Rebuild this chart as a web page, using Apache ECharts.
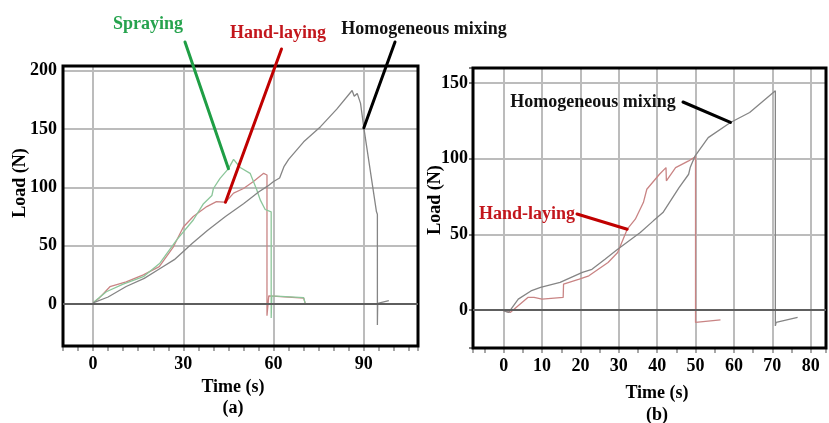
<!DOCTYPE html>
<html>
<head>
<meta charset="utf-8">
<script src="https://cdn.jsdelivr.net/npm/echarts@6/dist/echarts.min.js"></script>
<style>
  html, body { margin: 0; padding: 0; background: #fff; }
  #chart { width: 829px; height: 423px; }
</style>
</head>
<body>
<div id="chart"></div>
<script>
// Tick labels shown on each panel
const xTicksA = [0, 30, 60, 90];
const yTicksA = [0, 50, 100, 150, 200];
const xTicksB = [0, 10, 20, 30, 40, 50, 60, 70, 80];
const yTicksB = [0, 50, 100, 150];

// (a) load-time curves: [time (s), load (N)]
const mixingA = [[0,1],[5,6],[11,15],[17,22],[22,30],[27,38],[33,52],[38,63],[44,75],[50,86],[53,92],[55,96],[58,101],[60,105],[62,108],[63.5,118],[65,124],[70,139],[75.6,152],[81,167],[86.1,183],[86.8,178],[87.8,180.5],[88.9,172],[90,151],[94.2,79],[94.5,77],[94.5,-18],[94.6,0.5],[98.3,2.8]];
const handA = [[0,1],[2,5],[5.6,14.8],[11,19],[16.7,25],[22,32],[26.7,49],[30,66],[33.3,75],[37.8,83.5],[41,87.7],[44,87.2],[46.7,95],[50,99],[53.3,105],[56.7,112],[57.8,110.6],[57.8,-10],[58.4,7],[70,5],[70.5,0.5]];
const sprayA = [[0,1],[4.4,10.5],[10,17],[16.7,23.4],[22.2,35],[27.8,55],[33.3,72],[36.7,86],[39.5,93],[40,99],[42.2,107.7],[45,116],[46.7,124],[48.9,117],[52.2,112],[54.4,98],[55.6,89],[57.2,81],[59.2,79],[59.2,-12],[59.4,7],[70,5.5],[70.5,0.5]];

// (b) load-time curves: [time (s), load (N)]
const mixingB = [[0,-0.5],[1.3,-1.5],[3.8,7.3],[7.1,12.7],[9.6,15],[14.7,18.3],[20.5,25],[23,27],[26.4,33.7],[29.7,40.3],[35.6,51.3],[39,59],[41.5,64.5],[45.7,81],[48.2,89.8],[48.6,94.2],[49.9,102],[53.3,114],[59.1,124],[64.1,130.6],[70.8,145],[70.8,-10.4],[71,-8],[76.6,-4.8]];
const handB = [[0,-0.5],[1.7,-1.5],[6.3,8.4],[7.9,8.4],[10,7.3],[15.5,8.4],[15.6,17.2],[19.7,20.5],[22.2,22.7],[27.2,31.5],[29.7,38.1],[32.2,53.5],[34.3,60.1],[36.4,71.1],[37.3,79.9],[40.6,89.8],[42.3,94.2],[42.4,85.5],[44.8,94.2],[48.2,98.6],[50,101.5],[50,-8.1],[56.5,-6.4]];

const FONT = 'Liberation Serif';
const TXT = { fontFamily: FONT, fontWeight: 'bold', fontSize: 18, color: '#000' };
const GRID_LINE = { color: '#bcbcbc', width: 2 };
const COL = { mix: '#858585', hand: '#c98484', spray: '#8cc69a' };

function tickFormatter(list) {
  return v => (list.indexOf(Math.round(v * 1000) / 1000) >= 0 ? String(v) : '');
}

function zeroLine() {
  return {
    silent: true, symbol: 'none', label: { show: false },
    lineStyle: { color: '#5e5e5e', width: 2, type: 'solid' },
    data: [{ yAxis: 0 }]
  };
}

function curve(name, data, color, xi, yi, extra) {
  return Object.assign({
    name, type: 'line', data, xAxisIndex: xi, yAxisIndex: yi,
    showSymbol: false, symbol: 'none', animation: false,
    lineStyle: { color, width: 1.3 }, z: 3
  }, extra || {});
}

function mainX(gridIndex, min, max, step, labels) {
  return {
    type: 'value', gridIndex, min, max, minInterval: step, maxInterval: step,
    axisLine: { show: false, onZero: false },
    axisTick: { show: true, length: 5, lineStyle: { color: '#8a8a8a', width: 1.5 } },
    axisLabel: Object.assign({ margin: 9, formatter: tickFormatter(labels) }, TXT),
    splitLine: { show: false }
  };
}

function gridX(gridIndex, min, max, step) {
  return {
    type: 'value', gridIndex, min, max, minInterval: step, maxInterval: step,
    axisLine: { show: false, onZero: false }, axisTick: { show: false }, axisLabel: { show: false },
    splitLine: { show: true, showMinLine: false, showMaxLine: false, lineStyle: GRID_LINE }
  };
}

function mainY(gridIndex, min, max, labels, ticks) {
  return {
    type: 'value', gridIndex, min, max, minInterval: 50, maxInterval: 50,
    axisLine: { show: false, onZero: false },
    axisTick: { show: ticks, length: 4, lineStyle: { color: '#555', width: 1.5 } },
    axisLabel: Object.assign({ margin: ticks ? 5 : 6, formatter: tickFormatter(labels) }, TXT),
    splitLine: { show: true, showMinLine: false, showMaxLine: false, lineStyle: GRID_LINE }
  };
}

const chart = echarts.init(document.getElementById('chart'), null, { renderer: 'canvas' });

chart.setOption({
  backgroundColor: '#fff',
  animation: false,
  grid: [
    { left: 63, top: 66, width: 355, height: 280, show: true, borderColor: '#000', borderWidth: 3, backgroundColor: 'transparent', z: 4 },
    { left: 473, top: 68, width: 366.5, height: 280, show: true, borderColor: '#000', borderWidth: 3, backgroundColor: 'transparent', z: 4 }
  ],
  xAxis: [
    mainX(0, -10, 108, 5, xTicksA),
    gridX(0, -10, 108, 30),
    mainX(1, -8, 84, 5, xTicksB),
    gridX(1, -8, 84, 10)
  ],
  yAxis: [
    mainY(0, -36, 204, yTicksA, false),
    mainY(1, -25, 160, yTicksB, true)
  ],
  series: [
    curve('Homogeneous mixing', mixingA, COL.mix, 0, 0, { markLine: zeroLine(), z: 4 }),
    curve('Hand-laying', handA, COL.hand, 0, 0),
    curve('Spraying', sprayA, COL.spray, 0, 0),
    curve('Homogeneous mixing', mixingB, COL.mix, 2, 1, { markLine: zeroLine(), z: 4 }),
    curve('Hand-laying', handB, COL.hand, 2, 1)
  ]
});

// Annotation labels with leader lines pointing at points on the curves
function pointAt(arr, t) {
  return arr.find(p => p[0] === t);
}
function px(gridIndex, p) {
  return chart.convertToPixel({ gridIndex }, p);
}

const notes = [
  { text: 'Spraying', color: '#26a34e', tx: 148, ty: 24, from: [185, 42], grid: 0, to: pointAt(sprayA, 45), lc: '#1f9e45' },
  { text: 'Hand-laying', color: '#c3161c', tx: 278, ty: 33, from: [281.5, 49], grid: 0, to: pointAt(handA, 44), lc: '#c00000' },
  { text: 'Homogeneous mixing', color: '#111', tx: 424, ty: 29, from: [395, 42], grid: 0, to: pointAt(mixingA, 90), lc: '#000' },
  { text: 'Homogeneous mixing', color: '#111', tx: 593, ty: 102, from: [683, 102], grid: 1, to: pointAt(mixingB, 59.1), lc: '#000' },
  { text: 'Hand-laying', color: '#c3161c', tx: 527, ty: 214, from: [577, 214], grid: 1, to: pointAt(handB, 32.2), lc: '#c00000' }
];

const graphics = [];
notes.forEach(n => {
  const end = px(n.grid, n.to);
  graphics.push({
    type: 'line', z: 20, silent: true,
    shape: { x1: n.from[0], y1: n.from[1], x2: end[0], y2: end[1] },
    style: { stroke: n.lc, lineWidth: 3, lineCap: 'round' }
  });
  graphics.push({
    type: 'text', z: 21, silent: true, x: n.tx, y: n.ty,
    style: { text: n.text, fill: n.color, font: 'bold 18px "' + FONT + '"', align: 'center', verticalAlign: 'middle' }
  });
});

const axisTitles = [
  { text: 'Load (N)', x: 20, y: 183, rot: Math.PI / 2 },
  { text: 'Load (N)', x: 435, y: 200, rot: Math.PI / 2 },
  { text: 'Time (s)', x: 233, y: 387, rot: 0 },
  { text: 'Time (s)', x: 657, y: 393, rot: 0 },
  { text: '(a)', x: 233, y: 408, rot: 0 },
  { text: '(b)', x: 657, y: 415, rot: 0 }
];
axisTitles.forEach(a => {
  graphics.push({
    type: 'text', z: 21, silent: true, x: a.x, y: a.y, rotation: a.rot,
    style: { text: a.text, fill: '#000', font: 'bold 18px "' + FONT + '"', align: 'center', verticalAlign: 'middle' }
  });
});

chart.setOption({ graphic: graphics });
</script>
</body>
</html>
